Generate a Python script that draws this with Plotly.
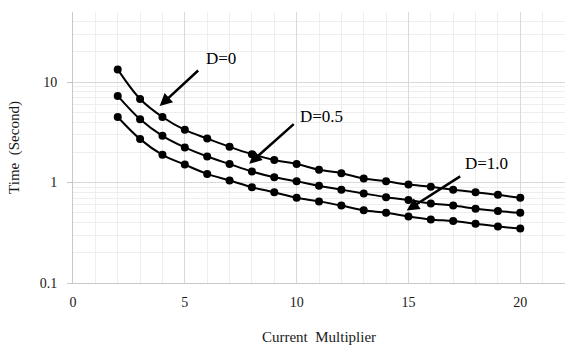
import math
import plotly.graph_objects as go

x_vals = list(range(2, 21))
d0 = [13.4, 6.8, 4.5, 3.35, 2.75, 2.27, 1.92, 1.68, 1.53, 1.34, 1.24, 1.10, 1.03, 0.955, 0.91, 0.85, 0.80, 0.755, 0.705]
d05 = [7.3, 4.27, 2.92, 2.24, 1.82, 1.53, 1.29, 1.13, 1.03, 0.93, 0.85, 0.78, 0.716, 0.67, 0.62, 0.59, 0.55, 0.52, 0.50]
d10 = [4.5, 2.71, 1.89, 1.51, 1.22, 1.05, 0.90, 0.80, 0.705, 0.65, 0.59, 0.53, 0.50, 0.46, 0.43, 0.414, 0.39, 0.366, 0.348]

labels = ["D=0", "D=0.5", "D=1.0"]
label_x = [6.64, 11.09, 18.49]
label_y = [17.3, 4.6, 1.54]
arrow_x = [3.875, 7.88, 14.92]
arrow_y = [5.78, 1.54, 0.528]
arrow_ax = [40, 46, 55]
arrow_ay = [-37, -41, -35]

FONT = "Liberation Serif"

fig = go.Figure()
for ys, name in zip([d0, d05, d10], labels):
    fig.add_trace(go.Scatter(
        x=x_vals, y=ys, name=name, mode="lines+markers",
        line=dict(color="black", width=2, shape="spline"),
        marker=dict(color="black", size=8),
        showlegend=False,
    ))

annotations = []
for i in range(3):
    annotations.append(dict(
        x=arrow_x[i], y=math.log10(arrow_y[i]), xref="x", yref="y",
        ax=arrow_ax[i], ay=arrow_ay[i], text="", showarrow=True,
        arrowhead=2, arrowsize=1.0, arrowwidth=2.5, arrowcolor="black",
    ))
    annotations.append(dict(
        x=label_x[i], y=math.log10(label_y[i]), xref="x", yref="y",
        text=labels[i], showarrow=False,
        font=dict(family=FONT, size=17, color="black"),
    ))

fig.update_layout(
    width=565, height=349,
    margin=dict(l=73, r=0, t=12, b=66),
    paper_bgcolor="white", plot_bgcolor="white",
    font=dict(family=FONT, size=14, color="#1a1a1a"),
    annotations=annotations,
    xaxis=dict(
        range=[0, 22], dtick=5, tick0=0,
        showgrid=True, gridcolor="#d9d9d9", gridwidth=1,
        minor=dict(dtick=1, showgrid=True, gridcolor="#eeeeee", gridwidth=1),
        showline=True, linecolor="#c8c8c8", linewidth=1,
        zeroline=False, ticks="",
        ticklabelstandoff=6,
        title=dict(text="Current\u00a0 Multiplier", standoff=22, font=dict(family=FONT, size=15)),
        tickfont=dict(family=FONT, size=14),
    ),
    yaxis=dict(
        type="log", range=[-1, 1.699],
        dtick=1,
        showgrid=True, gridcolor="#d9d9d9", gridwidth=1,
        minor=dict(dtick="D1", showgrid=True, gridcolor="#eeeeee", gridwidth=1),
        showline=True, linecolor="#c8c8c8", linewidth=1,
        ticks="outside", ticklen=5, tickcolor="#c8c8c8",
        ticklabelstandoff=7,
        zeroline=False,
        title=dict(text="Time\u00a0 (Second)", standoff=16, font=dict(family=FONT, size=15)),
        tickfont=dict(family=FONT, size=14),
    ),
)

fig.write_html("out.html")
